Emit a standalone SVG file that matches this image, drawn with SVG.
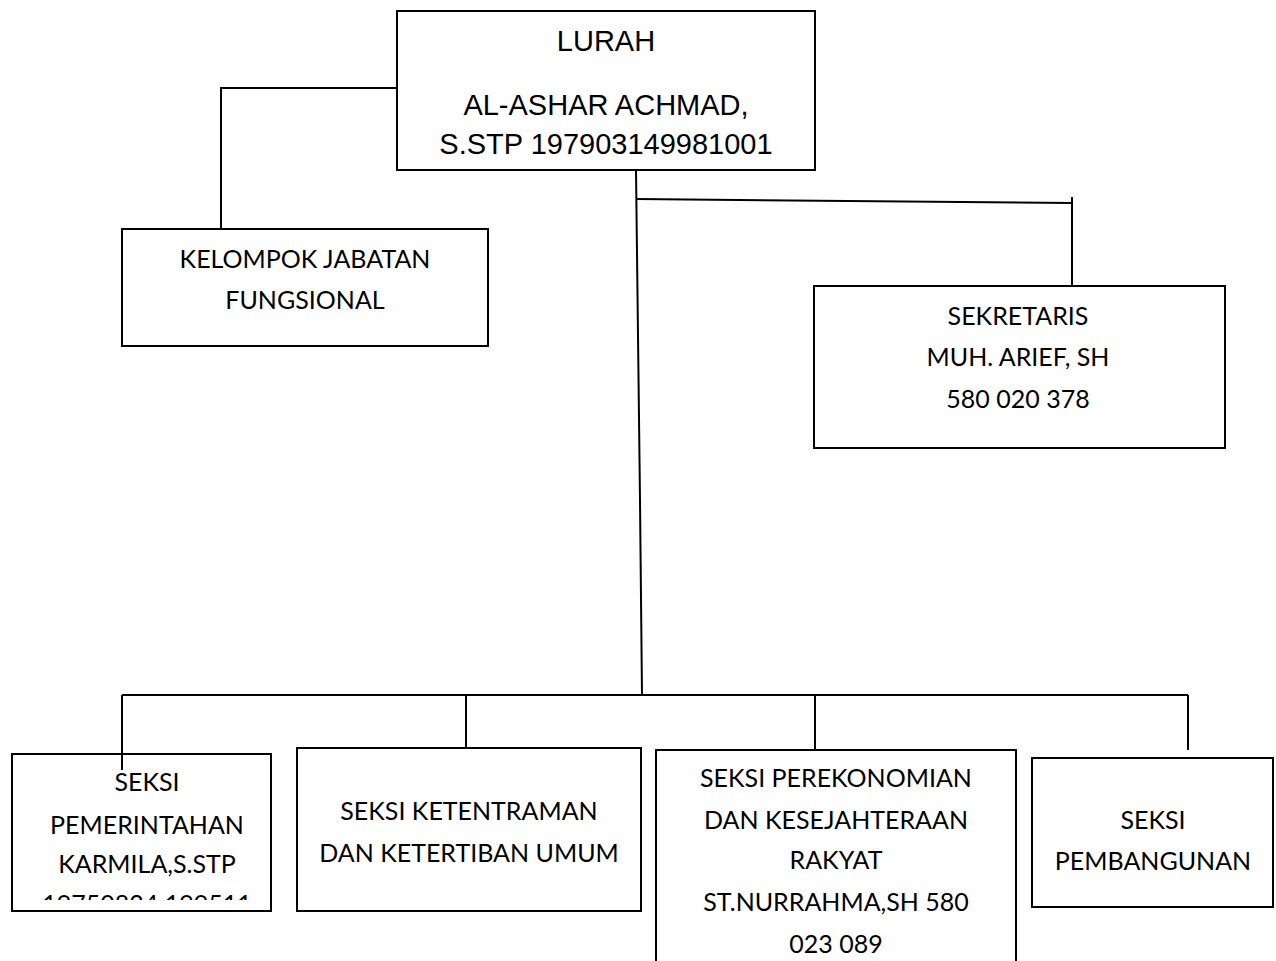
<svg xmlns="http://www.w3.org/2000/svg" width="1276" height="961" viewBox="0 0 1276 961">
<style>
.box{fill:#fff;stroke:#000;stroke-width:2}
.ln{fill:none;stroke:#000;stroke-width:2}
.a{font-family:"Liberation Sans",Arial,sans-serif;font-size:29px;fill:#000;text-anchor:middle}
.c{font-family:Lato,"Open Sans",sans-serif;font-size:25px;fill:#000;text-anchor:middle}
</style>
<defs>
<clipPath id="clip1"><rect x="12" y="755" width="259" height="145"/></clipPath>
</defs>
<rect width="1276" height="961" fill="#fff"/>
<g id="connectors">
<polyline class="ln" points="397,88 221,88 221,229"/>
<polyline class="ln" points="636,170 640,500 642,695"/>
<polyline class="ln" points="636,199 1072,203"/>
<line class="ln" x1="1072" y1="197" x2="1072" y2="286"/>
<line class="ln" x1="122" y1="695" x2="1188" y2="695"/>
<line class="ln" x1="122" y1="695" x2="122" y2="770"/>
<line class="ln" x1="466" y1="695" x2="466" y2="748"/>
<line class="ln" x1="815" y1="695" x2="815" y2="750"/>
<line class="ln" x1="1188" y1="695" x2="1188" y2="750"/>
</g>
<g id="lurah">
<rect class="box" x="397" y="11" width="418" height="159"/>
<text class="a" x="606" y="51">LURAH</text>
<text class="a" x="606" y="115">AL-ASHAR ACHMAD,</text>
<text class="a" x="606" y="154">S.STP 197903149981001</text>
</g>
<g id="kelompok">
<rect class="box" x="122" y="229" width="366" height="117"/>
<text class="c" x="305" y="268">KELOMPOK JABATAN</text>
<text class="c" x="305" y="309">FUNGSIONAL</text>
</g>
<g id="sekretaris">
<rect class="box" x="814" y="286" width="411" height="162"/>
<text class="c" x="1018" y="325">SEKRETARIS</text>
<text class="c" x="1018" y="366">MUH. ARIEF, SH</text>
<text class="c" x="1018" y="408">580 020 378</text>
</g>
<g id="seksi-pemerintahan">
<rect class="box" x="12" y="754" width="259" height="157"/>
<text class="c" x="147" y="791">SEKSI</text>
<text class="c" x="147" y="834">PEMERINTAHAN</text>
<text class="c" x="147" y="873">KARMILA,S.STP</text>
<text class="c" x="147" y="913" clip-path="url(#clip1)">19750824 199511</text>
</g>
<line class="ln" x1="122" y1="754" x2="122" y2="770"/>
<g id="seksi-ketentraman">
<rect class="box" x="297" y="748" width="344" height="163"/>
<text class="c" x="469" y="820">SEKSI KETENTRAMAN</text>
<text class="c" x="469" y="862">DAN KETERTIBAN UMUM</text>
</g>
<g id="seksi-perekonomian">
<path class="ln" d="M656,962 V750 H1016 V962"/>
<text class="c" x="836" y="787">SEKSI PEREKONOMIAN</text>
<text class="c" x="836" y="829">DAN KESEJAHTERAAN</text>
<text class="c" x="836" y="869">RAKYAT</text>
<text class="c" x="836" y="911">ST.NURRAHMA,SH 580</text>
<text class="c" x="836" y="953">023 089</text>
</g>
<g id="seksi-pembangunan">
<rect class="box" x="1032" y="758" width="241" height="149"/>
<text class="c" x="1153" y="829">SEKSI</text>
<text class="c" x="1153" y="870">PEMBANGUNAN</text>
</g>
</svg>
